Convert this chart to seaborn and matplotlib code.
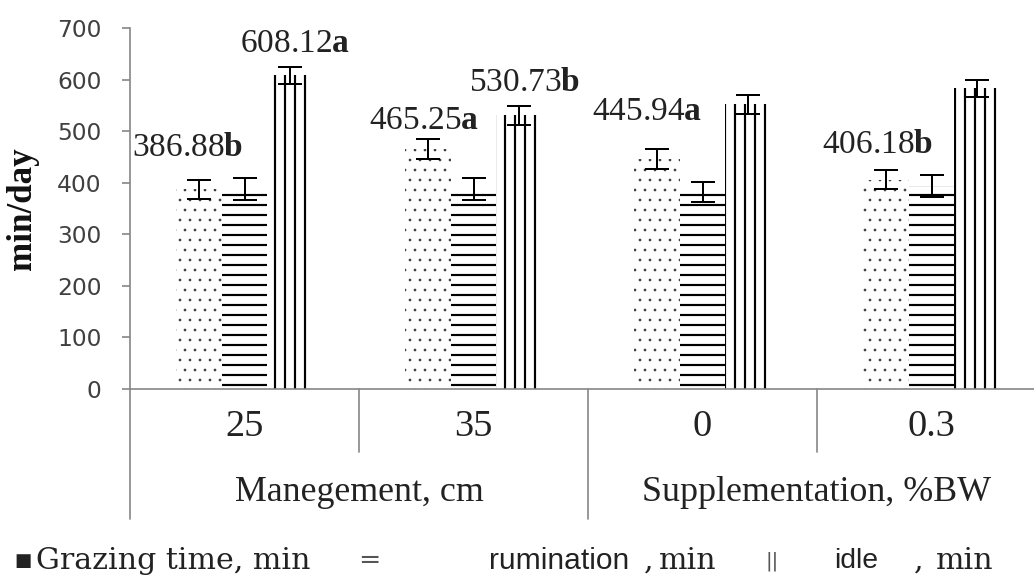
import matplotlib
matplotlib.use("Agg")
import matplotlib.pyplot as plt
import numpy as np
import pandas as pd
import seaborn as sns
from matplotlib.transforms import blended_transform_factory

# ---------------- data ----------------
levels = ["25", "35", "0", "0.3"]
factors = ["Manegement, cm", "Supplementation, %BW"]
series = ["Grazing time, min", "rumination, min", "idle, min"]

grazing = [386.88, 465.25, 445.94, 406.18]
grazing_err = [19, 20, 20, 18]
rumination = [388, 388, 382, 394]
rumination_err = [21, 21, 20, 21]
idle = [608.12, 530.73, 552, 583]
idle_err = [17, 18, 19, 17]

grazing_letters = ["b", "a", "a", "b"]
idle_letters = ["a", "b", None, None]

# ---------------- style ----------------
sns.set_style("white")
plt.rcParams["font.family"] = ["Liberation Serif", "DejaVu Sans"]
plt.rcParams["mathtext.fontset"] = "custom"
plt.rcParams["mathtext.rm"] = "Liberation Serif"
plt.rcParams["mathtext.bf"] = "Liberation Serif:bold"
plt.rcParams["hatch.linewidth"] = 1.3

DPI = 120
W, H = 1034, 580
fig = plt.figure(figsize=(W / DPI, H / DPI), dpi=DPI)
x0, x1, ytop, ybot = 130, 1046, 28, 389
ax = fig.add_axes([x0 / W, 1 - ybot / H, (x1 - x0) / W, (ybot - ytop) / H])

df = pd.DataFrame({
    "level": levels * 3,
    "series": [s for s in series for _ in levels],
    "value": grazing + rumination + idle,
})
sns.barplot(data=df, x="level", y="value", hue="series", order=levels,
            hue_order=series, width=0.6, errorbar=None, legend=False, ax=ax)

hatches = ["..", "--", "||"]
hcolors = ["#333333", "black", "black"]
hlw = [0.4, 1.3, 1.3]
values = [grazing, rumination, idle]
errs = [grazing_err, rumination_err, idle_err]
centers = []
for cont, h, hc, lw, v, e in zip(ax.containers, hatches, hcolors, hlw, values, errs):
    cs = []
    for bar in cont:
        bar.set_facecolor("white")
        bar.set_edgecolor(hc)
        bar.set_linewidth(0)
        bar.set_hatch(h)
        try:
            bar.set_hatch_linewidth(lw)
        except AttributeError:
            bar._hatch_linewidth = lw
        cs.append(bar.get_x() + bar.get_width() / 2)
    centers.append(cs)
    ax.errorbar(cs, v, yerr=e, fmt="none", ecolor="black", elinewidth=1.2,
                capsize=7, capthick=1.2, zorder=5)

# value labels (offsets in points relative to top of error bar)
g_off = [(-7, 19), (-2, 11), (-6, 22), (-5, 15)]
i_off = [(3, 14), (3, 14), None, None]
for i in range(4):
    ax.annotate(f"{grazing[i]:.2f}$\\mathbf{{{grazing_letters[i]}}}$",
                xy=(centers[0][i], grazing[i] + grazing_err[i]),
                xytext=g_off[i], textcoords="offset points",
                ha="center", va="center", fontsize=20, color="#222222")
    if idle_letters[i]:
        ax.annotate(f"{idle[i]:.2f}$\\mathbf{{{idle_letters[i]}}}$",
                    xy=(centers[2][i], idle[i] + idle_err[i]),
                    xytext=i_off[i], textcoords="offset points",
                    ha="center", va="center", fontsize=20, color="#222222")

# axes formatting
ax.set_ylim(0, 700)
ax.set_xlim(-0.5, 3.5)
ax.set_yticks(np.arange(0, 701, 100))
ax.tick_params(axis="y", left=True, length=5, width=1, color="#868686",
               labelsize=14, labelcolor="#404040", pad=12)
for lab in ax.get_yticklabels():
    lab.set_fontfamily("DejaVu Sans")
ax.set_xticks(range(4))
ax.set_xticklabels(levels, fontsize=23, color="#222222")
ax.tick_params(axis="x", length=0, pad=12)
ax.set_xlabel("")
ax.set_ylabel("")
for s in ["top", "right"]:
    ax.spines[s].set_visible(False)
for s in ["left", "bottom"]:
    ax.spines[s].set_color("#868686")
    ax.spines[s].set_linewidth(1)

# hierarchical category dividers
tr = blended_transform_factory(ax.transData, ax.transAxes)
for xd in [0.5, 2.5]:
    ax.plot([xd, xd], [0, -0.175], transform=tr, color="#868686", lw=1, clip_on=False)
for xd in [-0.5, 1.5, 3.5]:
    ax.plot([xd, xd], [0, -0.36], transform=tr, color="#868686", lw=1, clip_on=False)
for xd, f in zip([0.5, 2.5], factors):
    ax.text(xd, -0.288, f, transform=tr, ha="center", va="center",
            fontsize=21.5, color="#222222")

# y label
fig.text(22 / W, 1 - 209 / H, "min/day", rotation=90, ha="center", va="center",
         fontsize=21, fontweight="bold", color="#111111")

# legend (as drawn in the reference)
ly = 1 - 561 / H
serif_leg = dict(fontsize=18, family="DejaVu Serif", va="center", color="#222222")
sans_leg = dict(fontsize=18, family="Liberation Sans", va="center", color="#222222")
fig.text(14 / W, ly, "■", fontsize=11, family="DejaVu Sans", va="center", color="#222222")
fig.text(36 / W, ly, series[0], **serif_leg)
fig.text(358 / W, ly, "=", fontsize=16, family="DejaVu Sans", va="center", color="#555555")
fig.text(489 / W, ly, "rumination", **sans_leg)
fig.text(644 / W, ly, ",", **serif_leg)
fig.text(659 / W, ly, "min", **serif_leg)
fig.text(765 / W, ly, "||", fontsize=12, family="DejaVu Sans", va="center", color="#555555")
fig.text(834 / W, ly, "idle", fontsize=17, family="Liberation Sans", va="center", color="#222222")
fig.text(914 / W, ly, ",", **serif_leg)
fig.text(936 / W, ly, "min", **serif_leg)

fig.savefig("out.png", dpi=DPI)
